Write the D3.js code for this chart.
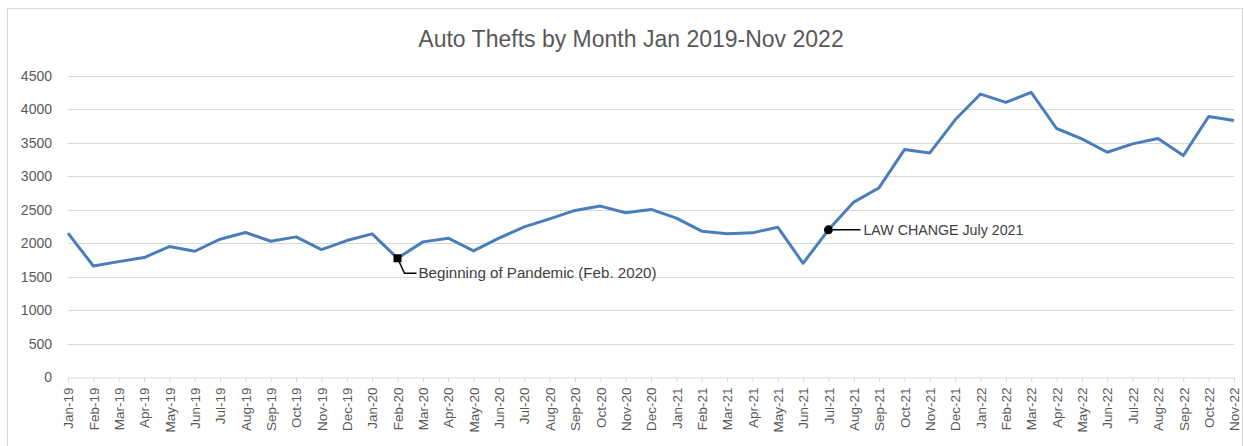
<!DOCTYPE html>
<html>
<head>
<meta charset="utf-8">
<script src="https://cdn.jsdelivr.net/npm/d3@7"></script>
<style>
  body { margin: 0; background: #fff; }
  text { font-family: "Liberation Sans", Arial, sans-serif; fill: #595959; }
</style>
</head>
<body>
<div id="chart"></div>
<script>
// Chart size
let svgWidth = 1244;
let svgHeight = 446;

let margin = { top: 76, right: 10, bottom: 69, left: 68 };
let width = 1234 - margin.left;
let height = 377 - margin.top;

// Data
let months = ["Jan-19","Feb-19","Mar-19","Apr-19","May-19","Jun-19","Jul-19","Aug-19","Sep-19","Oct-19","Nov-19","Dec-19",
    "Jan-20","Feb-20","Mar-20","Apr-20","May-20","Jun-20","Jul-20","Aug-20","Sep-20","Oct-20","Nov-20","Dec-20",
    "Jan-21","Feb-21","Mar-21","Apr-21","May-21","Jun-21","Jul-21","Aug-21","Sep-21","Oct-21","Nov-21","Dec-21",
    "Jan-22","Feb-22","Mar-22","Apr-22","May-22","Jun-22","Jul-22","Aug-22","Sep-22","Oct-22","Nov-22"];
let thefts = [2150,1660,1725,1785,1950,1880,2060,2160,2030,2095,1905,2040,
    2140,1775,2020,2075,1885,2075,2245,2365,2490,2555,2455,2505,
    2375,2180,2140,2155,2240,1700,2200,2615,2830,3400,3350,3845,
    4230,4105,4255,3715,3560,3360,3485,3565,3310,3895,3835];
let yTicks = [0,500,1000,1500,2000,2500,3000,3500,4000,4500];
let notes = [
    { month: "Feb-20", text: "Beginning of Pandemic (Feb. 2020)" },
    { month: "Jul-21", text: "LAW CHANGE July 2021" }
];

let svg = d3.select("#chart")
    .append("svg")
    .attr("width", svgWidth)
    .attr("height", svgHeight);

// outer chart border
svg.append("rect")
    .attr("x", 7.5).attr("y", 8.5)
    .attr("width", svgWidth - 9).attr("height", svgHeight - 8)
    .attr("fill", "none")
    .attr("stroke", "#d9d9d9");

svg.append("text")
    .attr("x", 631)
    .attr("y", 47)
    .attr("text-anchor", "middle")
    .style("font-size", "23px")
    .text("Auto Thefts by Month Jan 2019-Nov 2022");

let chartGroup = svg.append("g")
    .attr("transform", `translate(${margin.left}, ${margin.top})`);

let xScale = d3.scalePoint()
    .domain(months)
    .range([0, width]);

let yScale = d3.scaleLinear()
    .domain([0, 4500])
    .range([height, 0]);

// gridlines
chartGroup.append("g")
    .selectAll("line")
    .data(yTicks.slice(1))
    .enter()
    .append("line")
    .attr("x1", 0).attr("x2", width)
    .attr("y1", d => Math.round(yScale(d)) + 0.5)
    .attr("y2", d => Math.round(yScale(d)) + 0.5)
    .attr("stroke", "#d9d9d9");

// y axis labels
let leftAxis = d3.axisLeft(yScale).tickValues(yTicks).tickFormat(d3.format("d")).tickSize(0).tickPadding(16);
let yAxis = chartGroup.append("g").call(leftAxis);
yAxis.select(".domain").remove();
yAxis.selectAll("text").style("font-size", "14px").style("fill", "#595959");

// x axis
let bottomAxis = d3.axisBottom(xScale).tickSize(5).tickSizeOuter(0);
let xAxis = chartGroup.append("g")
    .attr("transform", `translate(0, ${height + 0.5})`)
    .call(bottomAxis);
xAxis.select(".domain").attr("stroke", "#d9d9d9");
xAxis.selectAll(".tick line").attr("stroke", "#d9d9d9");
xAxis.selectAll("text")
    .style("font-size", "13.5px")
    .style("fill", "#595959")
    .attr("text-anchor", "end")
    .attr("transform", "rotate(-90)")
    .attr("x", -10)
    .attr("y", 0)
    .attr("dy", "0.35em");

// line
let line = d3.line()
    .x((d, i) => xScale(months[i]))
    .y(d => yScale(d));

chartGroup.append("path")
    .datum(thefts)
    .attr("fill", "none")
    .attr("stroke", "#4a7ebb")
    .attr("stroke-width", 3)
    .attr("stroke-linejoin", "round")
    .attr("d", line);

// annotations
let n0 = notes[0];
let px0 = xScale(n0.month);
let py0 = yScale(thefts[months.indexOf(n0.month)]);
chartGroup.append("path")
    .attr("d", `M${px0},${py0} L${px0 + 7},${py0 + 15} L${px0 + 19},${py0 + 15}`)
    .attr("fill", "none")
    .attr("stroke", "#000")
    .attr("stroke-width", 1.5);
chartGroup.append("rect")
    .attr("x", px0 - 4).attr("y", py0 - 4)
    .attr("width", 8).attr("height", 8)
    .attr("fill", "#000");
chartGroup.append("text")
    .attr("x", px0 + 21)
    .attr("y", py0 + 15)
    .attr("dy", "0.35em")
    .style("font-size", "14.5px")
    .style("fill", "#404040")
    .attr("textLength", 238)
    .attr("lengthAdjust", "spacingAndGlyphs")
    .text(n0.text);

let n1 = notes[1];
let px1 = xScale(n1.month);
let py1 = yScale(thefts[months.indexOf(n1.month)]);
chartGroup.append("line")
    .attr("x1", px1).attr("x2", px1 + 32)
    .attr("y1", py1).attr("y2", py1)
    .attr("stroke", "#000")
    .attr("stroke-width", 1.5);
chartGroup.append("circle")
    .attr("cx", px1).attr("cy", py1)
    .attr("r", 4.5)
    .attr("fill", "#000");
chartGroup.append("text")
    .attr("x", px1 + 35)
    .attr("y", py1)
    .attr("dy", "0.35em")
    .style("font-size", "14.5px")
    .style("fill", "#404040")
    .attr("textLength", 160)
    .attr("lengthAdjust", "spacingAndGlyphs")
    .text(n1.text);
</script>
</body>
</html>
